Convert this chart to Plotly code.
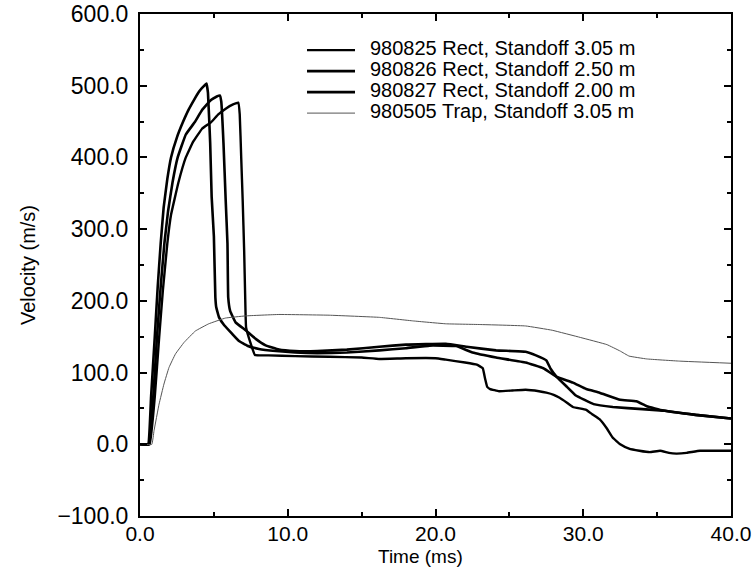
import plotly.graph_objects as go

# Time (ms) and velocity (m/s) histories for each shot
t_980825 = [0, 0.65, 1.0, 1.3, 1.55, 1.85, 2.1, 2.6, 3.1, 3.6, 4.2, 4.8, 5.3, 5.8, 6.3, 6.65, 6.75,
            6.85, 6.95, 7.05, 7.12, 7.18, 7.5, 7.78, 8.7, 10.5, 12.8, 15.0, 16.2, 18.0, 20.0,
            20.7, 22.0, 22.8, 23.2, 23.35, 23.5, 23.7, 24.3, 25.2, 26.1, 27.0, 27.5, 28.0,
            28.4, 28.9, 29.3, 30.2, 30.6, 31.1, 31.6, 32.0, 32.5, 33.1, 33.8, 34.5, 35.2,
            35.8, 36.3, 37.0, 37.9, 39.0, 40.0]
v_980825 = [0, 0, 66, 150, 215, 280, 320, 365, 400, 422, 440, 449, 460, 468, 474, 476.5, 460,
            400, 340, 270, 205, 163, 140, 124.5, 124, 123, 122, 121, 119, 120, 120,
            118, 114, 111, 106, 92, 80, 77, 74, 75, 76, 74, 72, 69,
            65, 58, 52, 48, 42, 35, 22, 9, 0, -6, -9, -11, -9,
            -12, -13, -12, -9, -9, -9]

t_980826 = [0, 0.6, 0.9, 1.15, 1.4, 1.65, 1.9, 2.2, 2.55, 3.1, 3.7, 4.2, 4.8, 5.2, 5.4, 5.5,
            5.65, 5.8, 5.92, 5.97, 6.1, 6.47, 7.15, 7.83, 8.5, 9.4, 10.5, 12.0, 14.0, 16.2,
            18.0, 20.7, 22.1, 24.1, 26.1, 26.8, 27.5, 27.8, 28.2, 28.9, 29.5, 30.7, 32.0,
            34.0, 35.4, 37.6, 40.0]
v_980826 = [0, 0, 66, 150, 220, 280, 325, 365, 400, 432, 449, 466, 480, 485, 486.5, 478,
            420, 340, 280, 205, 186, 170, 159, 147, 138, 132, 130, 130, 132, 136,
            139, 140, 136, 131, 129, 124, 117, 105, 94, 80, 68, 56, 52,
            49, 47, 41, 36]

t_980827 = [0, 0.55, 0.75, 1.0, 1.2, 1.4, 1.6, 1.85, 2.1, 2.5, 2.9, 3.3, 3.65, 4.0, 4.3, 4.5,
            4.6, 4.75, 4.85, 5.0, 5.1, 5.16, 5.35, 5.7, 6.24, 6.7, 7.26, 8.05, 9.2, 10.5,
            12.0, 14.0, 16.2, 18.0, 19.6, 21.4, 22.5, 24.1, 26.1, 27.3, 28.2, 29.3, 30.2,
            31.1, 32.5, 33.6, 34.3, 35.4, 37.6, 40.0]
v_980827 = [0, 0, 66, 150, 220, 280, 330, 370, 400, 428, 449, 467, 480, 492, 499, 503,
            490, 420, 345, 290, 205, 191, 177, 166, 154, 144, 137.5, 133, 130, 128,
            127, 128, 131, 134, 137.6, 137, 128, 121, 114, 106, 94, 86, 77,
            72, 62, 60, 53, 47, 41, 36]

t_980505 = [0, 0.8, 0.95, 1.29, 1.62, 1.96, 2.4, 2.98, 3.75, 4.65, 5.78, 7.13, 9.4, 12.8,
            16.2, 18.5, 20.7, 23.0, 26.1, 27.9, 29.8, 31.6, 32.5, 33.1, 34.3, 36.5, 40.0]
v_980505 = [0, 0, 19, 56, 84, 107, 126, 142, 158, 168, 176, 179, 181, 180,
            177, 172, 168, 167, 165, 159, 149, 139, 130, 123, 119, 116, 113]

series = [
    ("980825 Rect, Standoff 3.05 m", t_980825, v_980825, 2.4, "black"),
    ("980826 Rect, Standoff 2.50 m", t_980826, v_980826, 2.6, "black"),
    ("980827 Rect, Standoff 2.00 m", t_980827, v_980827, 2.6, "black"),
    ("980505 Trap, Standoff 3.05 m", t_980505, v_980505, 1.0, "#555555"),
]

font_family = "Liberation Sans, Arial, Helvetica, sans-serif"

fig = go.Figure()
for name, t, v, w, c in series:
    fig.add_trace(go.Scatter(x=t, y=v, mode="lines", name=name, showlegend=False,
                             line=dict(color=c, width=w, shape="spline", smoothing=0.25)))

# Key in the upper middle of the frame: a short line sample followed by the label
key_x0, key_x1, key_text_x = 0.2826, 0.3638, 0.3858
key_rows = [0.932, 0.8902, 0.8484, 0.8066]
for (name, _, _, w, c), ky in zip(series, key_rows):
    fig.add_shape(type="line", xref="paper", yref="paper",
                  x0=key_x0, x1=key_x1, y0=ky - 0.004, y1=ky - 0.004,
                  line=dict(color=c, width=w))
    fig.add_annotation(xref="paper", yref="paper", x=key_text_x, y=ky,
                       xanchor="left", yanchor="middle", showarrow=False, text=name,
                       font=dict(family=font_family, size=20, color="black"))

# Horizontal axis title, set just below the tick labels
fig.add_annotation(xref="paper", yref="paper", x=0.475, y=-0.08,
                   xanchor="center", yanchor="middle", showarrow=False, text="Time (ms)",
                   font=dict(family=font_family, size=19, color="black"))

axis_common = dict(
    showline=True, linecolor="black", linewidth=2, mirror="ticks",
    ticks="inside", ticklen=7, tickwidth=1.5, tickcolor="black",
    showgrid=False, zeroline=False, tickformat=".1f", automargin=False,
    ticklabeloverflow="allow",
)

fig.update_xaxes(range=[0, 40], dtick=10, tick0=0,
                 minor=dict(dtick=5, ticks="inside", ticklen=4, tickcolor="black"),
                 tickfont=dict(family=font_family, size=21, color="black"),
                 ticklabelstandoff=-2, **axis_common)
fig.update_yaxes(range=[-100, 600], dtick=100, tick0=0,
                 minor=dict(dtick=50, ticks="inside", ticklen=4, tickcolor="black"),
                 tickfont=dict(family=font_family, size=23, color="black"),
                 title_text="Velocity (m/s)", title_standoff=16, ticklabelstandoff=5,
                 title_font=dict(family=font_family, size=20, color="black"),
                 **axis_common)

fig.update_layout(
    width=753, height=575,
    margin=dict(l=140, r=22, t=14, b=59, autoexpand=False),
    paper_bgcolor="white", plot_bgcolor="white",
    font=dict(family=font_family, color="black"),
    showlegend=False,
)

fig.write_html("out.html")
